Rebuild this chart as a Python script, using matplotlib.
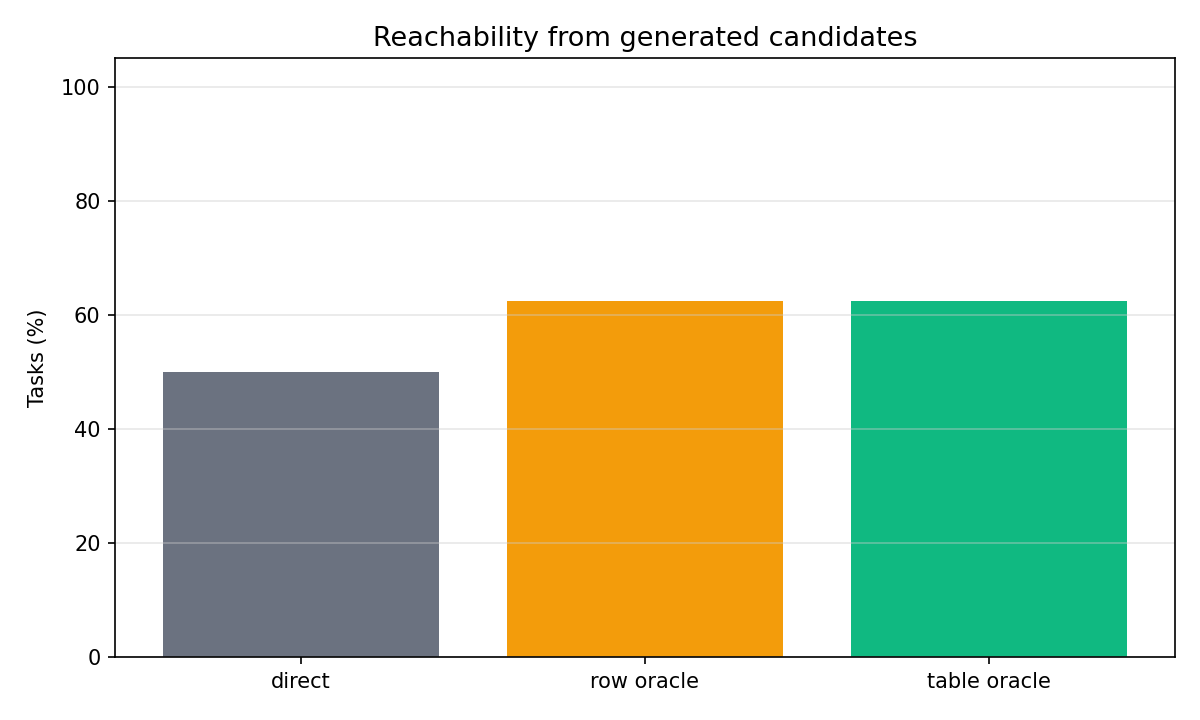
import matplotlib
matplotlib.use("Agg")
import matplotlib.pyplot as plt

labels = ["direct", "row oracle", "table oracle"]
values = [50.0, 62.5, 62.5]
colors = ["#6b7280", "#f39c0b", "#10b981"]

fig, ax = plt.subplots(figsize=(8, 4.8), dpi=150)
ax.bar(labels, values, color=colors, width=0.8)
ax.set_ylim(0, 105)
ax.set_ylabel("Tasks (%)", labelpad=6)
ax.set_title("Reachability from generated candidates", fontsize=13)
ax.yaxis.grid(True, color="#cccccc", alpha=0.45, linewidth=0.8)

fig.subplots_adjust(left=0.096, right=0.979, top=0.919, bottom=0.0875)
plt.savefig("out.png")
